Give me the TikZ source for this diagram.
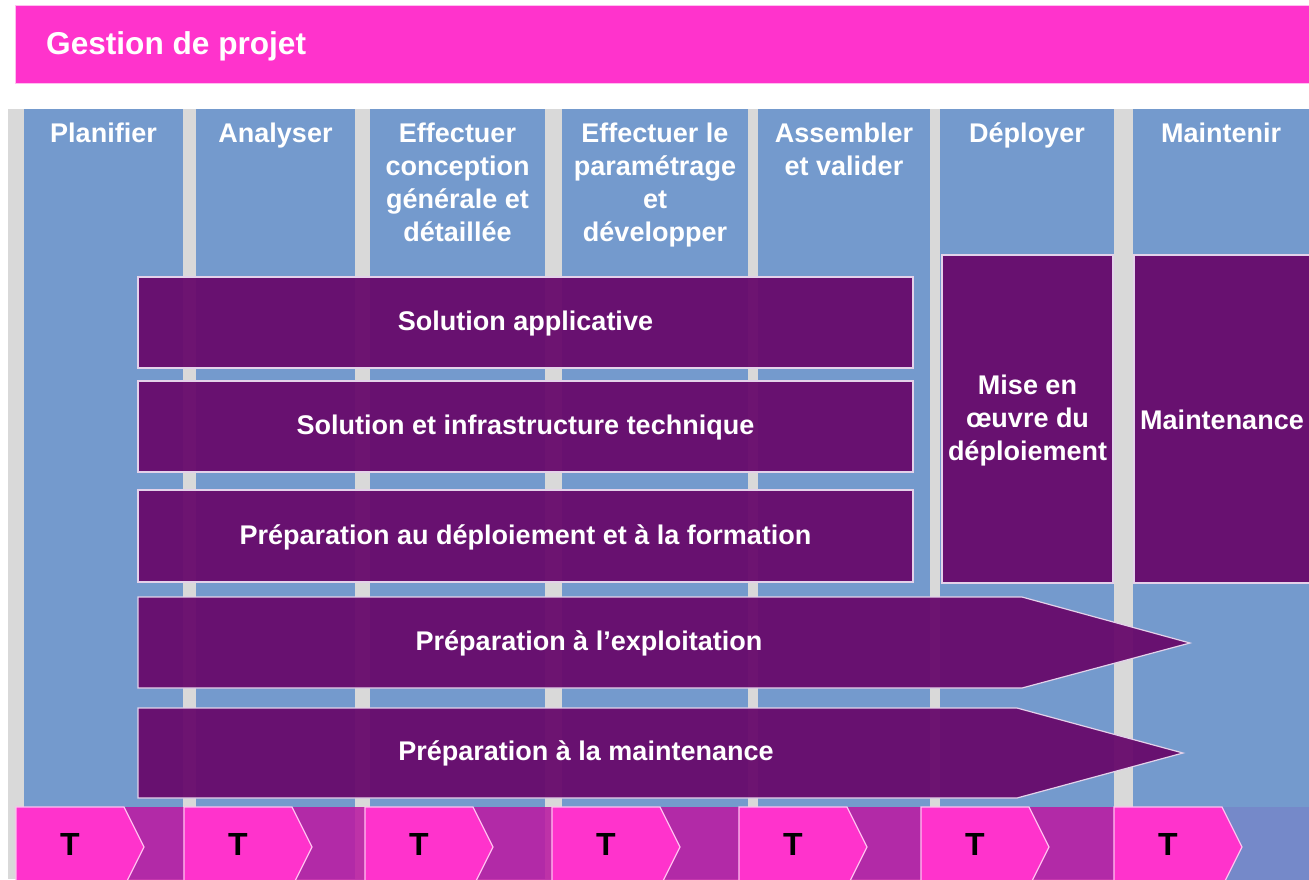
\documentclass[tikz,border=0pt]{standalone}
\usepackage{fontspec}
\setmainfont{Liberation Sans}
\definecolor{pinkbar}{RGB}{255,51,204}
\definecolor{pinkedge}{RGB}{255,190,240}
\definecolor{colblue}{RGB}{116,154,205}
\definecolor{gapgray}{RGB}{217,217,217}
\definecolor{plum}{RGB}{104,10,108}
\definecolor{plumedge}{RGB}{228,210,234}
\definecolor{magband}{RGB}{187,27,162}
\definecolor{lavband}{RGB}{117,137,201}
\begin{document}
\begin{tikzpicture}[x=1pt,y=-1pt,
  txt/.style={text=white,font=\fontsize{27}{33}\selectfont\bfseries,align=center,inner sep=0pt},
  head/.style={txt,anchor=north},
  plumbox/.style={fill=plum,fill opacity=0.95,text opacity=1,draw=plumedge,line width=1.2pt,txt},
  plumshape/.style={fill=plum,fill opacity=0.95,draw=plumedge,line width=1.2pt},
  band/.style={fill=magband,fill opacity=0.88},
  chev/.style={fill=pinkbar,draw=pinkedge,line width=1.2pt},
  tmark/.style={font=\fontsize{32}{36}\selectfont\bfseries,text=black,inner sep=0pt}
]
\useasboundingbox (0,0) rectangle (1309,879);

% phase columns on the grey ground
\fill[gapgray] (8,109) rectangle (1309,879);
\foreach \a/\b in {24/183,196/355,370/545,562/748,758/930,940/1114,1133/1312}
  \fill[colblue] (\a,109) rectangle (\b,879);

% project management banner
\path[fill=pinkbar,draw=pinkedge,line width=1pt] (15,5) rectangle (1315,83);
\node[anchor=base west,text=white,font=\fontsize{31.6}{36}\selectfont\bfseries,inner sep=0pt]
  (gestion) at (46,54) {Gestion de projet};

% phase headings
\newcommand{\hs}{\rule{0pt}{22pt}}
\node[head] (planifier) at (103.5,120) {\hs Planifier};
\node[head] (analyser) at (275.5,120) {\hs Analyser};
\node[head] (conception) at (457.5,120) {\hs Effectuer\\conception\\générale et\\détaillée};
\node[head] (parametrage) at (655,120) {\hs Effectuer le\\paramétrage\\et\\développer};
\node[head] (assembler) at (844,120) {\hs Assembler\\et valider};
\node[head] (deployer) at (1027,120) {\hs Déployer};
\node[head] (maintenir) at (1221,120) {\hs Maintenir};

% work streams
\node[plumbox,minimum width=775pt,minimum height=91pt] (appli) at (525.5,322.5) {};
\node[txt] (applitxt) at (525.5,324) {Solution applicative};
\node[plumbox,minimum width=775pt,minimum height=91pt] (infra) at (525.5,426.5) {};
\node[txt] (infratxt) at (525.5,428) {Solution et infrastructure technique};
\node[plumbox,minimum width=775pt,minimum height=92pt] (formation) at (525.5,536) {};
\node[txt] (formationtxt) at (525.5,537.5) {Préparation au déploiement et à la formation};
\node[plumbox,minimum width=171pt,minimum height=328pt] (miseoeuvre) at (1027.5,419) {};
\node[txt] (miseoeuvretxt) at (1027.5,420.5) {Mise en\\œuvre du\\déploiement};
\node[plumbox,minimum width=178pt,minimum height=328pt] (maintenance) at (1223,419) {};
\node[txt] (maintenancetxt) at (1222,420) {Maintenance};

\path[plumshape] (138,597) -- (1022,597) -- (1190,643) -- (1022,688) -- (138,688) -- cycle;
\node[txt] (exploitation) at (589,643.5) {Préparation à l’exploitation};
\path[plumshape] (138,708) -- (1017,708) -- (1183,753) -- (1017,798) -- (138,798) -- cycle;
\node[txt] (prepmaint) at (586,753.5) {Préparation à la maintenance};

% checkpoint row
\foreach \s/\e in {16/184,184/365,365/552,552/739,739/921,921/1114}
  \fill[band] (\s,807) rectangle (\e,890);
\fill[lavband] (1114,807) rectangle (1312,890);
\foreach \s [count=\i] in {16,184,365,552,739,921,1114}{
  \path[chev] (\s,807) -- (\s+108,807) -- (\s+128,847) -- (\s+108,887) -- (\s,887) -- cycle;
  \node[tmark] (t\i) at (\s+54,844) {T};
}
\end{tikzpicture}
\end{document}
